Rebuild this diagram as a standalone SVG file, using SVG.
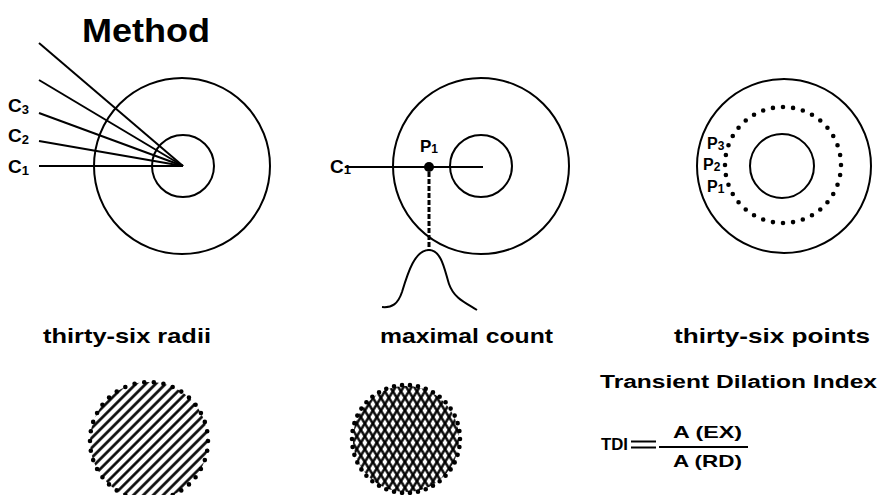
<svg xmlns="http://www.w3.org/2000/svg" width="889" height="495" viewBox="0 0 889 495">
<style>
.ln{fill:none;stroke:#000;stroke-width:2}
.t{font-family:"Liberation Sans",Arial,sans-serif;font-weight:bold;fill:#000}
.dots{fill:none;stroke:#000;stroke-linecap:round;stroke-dasharray:0 1}
</style>
<defs>
<pattern id="hatchL" width="7" height="7" patternUnits="userSpaceOnUse" patternTransform="rotate(-45)"><line x1="-1" y1="3.5" x2="8" y2="3.5" stroke="#000" stroke-width="2.6"/></pattern>
<pattern id="hatchA" width="6.8" height="6.8" patternUnits="userSpaceOnUse" patternTransform="rotate(-58)"><line x1="-1" y1="3.4" x2="8" y2="3.4" stroke="#000" stroke-width="2.4"/></pattern>
<pattern id="hatchB" width="6.8" height="6.8" patternUnits="userSpaceOnUse" patternTransform="rotate(58)"><line x1="-1" y1="3.4" x2="8" y2="3.4" stroke="#000" stroke-width="2.4"/></pattern>
<clipPath id="clipL"><circle cx="149" cy="441" r="59"/></clipPath>
<clipPath id="clipM"><circle cx="406" cy="439" r="53"/></clipPath>
</defs>
<rect width="889" height="495" fill="#fff"/>

<g id="title"><text class="t" x="82" y="42" font-size="34" textLength="128" lengthAdjust="spacingAndGlyphs">Method</text></g>

<g id="radii-diagram">
<circle class="ln" cx="182" cy="166" r="88"/>
<circle class="ln" cx="183" cy="166" r="31"/>
<text class="t" x="8" y="112" font-size="19">C<tspan font-size="13" dy="2">3</tspan></text>
<text class="t" x="8" y="142" font-size="19">C<tspan font-size="13" dy="2">2</tspan></text>
<text class="t" x="8" y="173" font-size="19">C<tspan font-size="13" dy="2">1</tspan></text>
<text class="t" x="43" y="343" font-size="21" textLength="168" lengthAdjust="spacingAndGlyphs">thirty-six radii</text>
</g>

<g id="count-diagram">
<circle class="ln" cx="481" cy="166" r="88"/>
<circle class="ln" cx="481" cy="166" r="31"/>
<text class="t" x="330" y="173" font-size="19">C<tspan font-size="13" dy="1">1</tspan></text>
<text class="t" x="420" y="152" font-size="17">P<tspan font-size="12" dy="1">1</tspan></text>
<circle cx="429" cy="167" r="5" fill="#000"/>
<path class="ln" d="M382,307 C392,308 398,304 402,292 C408,272 415,250 429,250 C442,250 445,272 449,284 C454,298 464,302 477,310"/>
<text class="t" x="380" y="343" font-size="21" textLength="173" lengthAdjust="spacingAndGlyphs">maximal count</text>
</g>

<g id="points-diagram">
<circle class="ln" cx="784" cy="166" r="87"/>
<circle class="ln" cx="782" cy="166" r="32"/>
<circle class="dots" cx="783" cy="165" r="58" pathLength="36" stroke-width="4.6"/>
<text class="t" x="707" y="149" font-size="16">P<tspan font-size="12" dy="1">3</tspan></text>
<text class="t" x="703" y="170" font-size="16">P<tspan font-size="12" dy="1">2</tspan></text>
<text class="t" x="707" y="192" font-size="16">P<tspan font-size="12" dy="1">1</tspan></text>
<text class="t" x="674" y="343" font-size="21" textLength="196" lengthAdjust="spacingAndGlyphs">thirty-six points</text>
</g>

<g id="hatched-area">
<rect x="88" y="380" width="122" height="122" fill="url(#hatchL)" clip-path="url(#clipL)"/>
<circle class="dots" cx="149" cy="441" r="59" pathLength="38" stroke-width="4.6"/>
</g>

<g id="crosshatched-area">
<g clip-path="url(#clipM)">
<rect x="350" y="383" width="112" height="112" fill="url(#hatchA)"/>
<rect x="350" y="383" width="112" height="112" fill="url(#hatchB)"/>
</g>
<circle class="dots" cx="406" cy="439" r="54" pathLength="42" stroke-width="4.6"/>
</g>

<g id="tdi">
<text class="t" x="600" y="388" font-size="18" textLength="277" lengthAdjust="spacingAndGlyphs">Transient Dilation Index</text>
<text class="t" x="601" y="450" font-size="17" textLength="27" lengthAdjust="spacingAndGlyphs">TDI</text>
<line class="ln" x1="631" y1="441.5" x2="656" y2="441.5" stroke-width="2.4"/>
<line class="ln" x1="631" y1="447.5" x2="656" y2="447.5" stroke-width="2.4"/>
<line class="ln" x1="659" y1="447" x2="748" y2="447"/>
<text class="t" x="673" y="438" font-size="17" textLength="69" lengthAdjust="spacingAndGlyphs">A (EX)</text>
<text class="t" x="673" y="467" font-size="17" textLength="69" lengthAdjust="spacingAndGlyphs">A (RD)</text>
</g>

<g id="connectors">
<line class="ln" x1="39" y1="166" x2="183" y2="166"/>
<line class="ln" x1="39" y1="141" x2="183" y2="166"/>
<line class="ln" x1="39" y1="113" x2="183" y2="166"/>
<line class="ln" x1="39" y1="80" x2="183" y2="166"/>
<line class="ln" x1="39" y1="43" x2="183" y2="166"/>
<line class="ln" x1="345" y1="167" x2="483" y2="167"/>
<line x1="429" y1="172" x2="429" y2="250" stroke="#000" stroke-width="3" stroke-dasharray="5 2"/>
</g>
</svg>
